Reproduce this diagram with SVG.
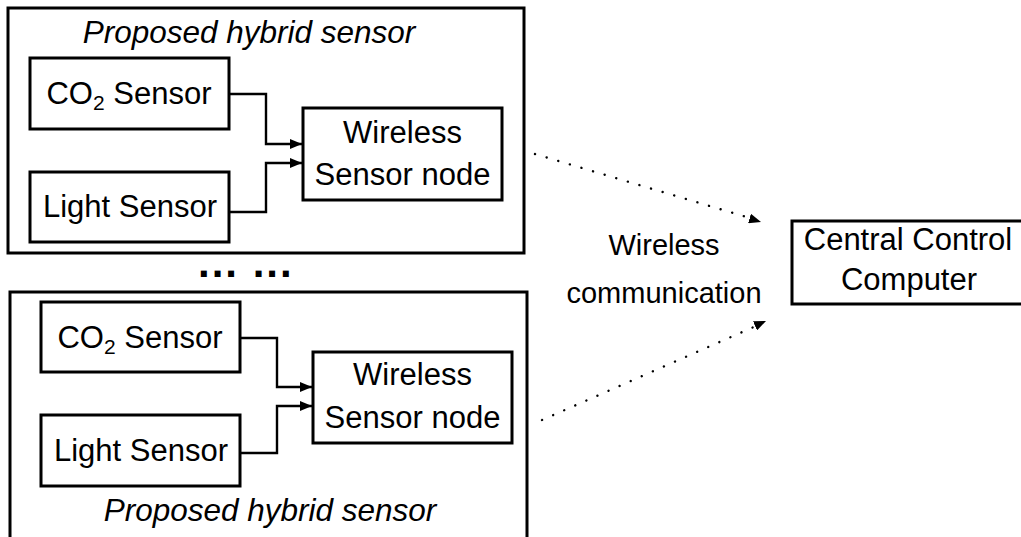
<svg xmlns="http://www.w3.org/2000/svg" width="1021" height="537" viewBox="0 0 1021 537">
<defs>
<style>
.box{fill:#fff;stroke:#000;stroke-width:3}
.outer{fill:none;stroke:#000;stroke-width:3}
.t{font-family:"Liberation Sans",Arial,sans-serif;font-size:31px;fill:#000;text-anchor:middle}
.ti{font-family:"Liberation Sans",Arial,sans-serif;font-size:31.5px;font-style:italic;fill:#000;text-anchor:middle}
.lbl{font-family:"Liberation Sans",Arial,sans-serif;font-size:29px;fill:#000;text-anchor:middle}
.dots{font-family:"Liberation Sans",Arial,sans-serif;font-size:42px;font-weight:bold;fill:#000;letter-spacing:2px}
.wire{fill:none;stroke:#000;stroke-width:2.4}
.dotted{fill:none;stroke:#000;stroke-width:2.4;stroke-dasharray:0.1 12;stroke-linecap:round}
.head{fill:none;stroke:none}
</style>
<marker id="ah" viewBox="0 0 12 10" refX="12" refY="5" markerWidth="12" markerHeight="10" markerUnits="userSpaceOnUse" orient="auto">
<path d="M0,0 L12,5 L0,10 z" fill="#000"/>
</marker>
</defs>
<rect width="1021" height="537" fill="#fff"/>

<g id="group-top">
<rect class="outer" x="8" y="8" width="516" height="245"/>
<text class="ti" x="249" y="43">Proposed hybrid sensor</text>
</g>
<g id="co2-top">
<rect class="box" x="30" y="58" width="199" height="71"/>
<text class="t" x="129" y="104">CO<tspan font-size="21" dy="6">2</tspan><tspan dy="-6"> Sensor</tspan></text>
</g>
<g id="light-top">
<rect class="box" x="30" y="172" width="199" height="70"/>
<text class="t" x="130" y="217">Light Sensor</text>
</g>
<g id="wsn-top">
<rect class="box" x="303" y="108" width="199" height="92"/>
<text class="t" x="402.5" y="143">Wireless</text>
<text class="t" x="402.5" y="185">Sensor node</text>
</g>

<g id="group-bottom">
<path class="outer" d="M10,540 V292 H527 V540"/>
<text class="ti" x="270" y="521">Proposed hybrid sensor</text>
</g>
<g id="co2-bottom">
<rect class="box" x="41" y="302" width="199" height="70"/>
<text class="t" x="140" y="348">CO<tspan font-size="21" dy="6">2</tspan><tspan dy="-6"> Sensor</tspan></text>
</g>
<g id="light-bottom">
<rect class="box" x="41" y="415" width="199" height="71"/>
<text class="t" x="141" y="461">Light Sensor</text>
</g>
<g id="wsn-bottom">
<rect class="box" x="313" y="352" width="199" height="91"/>
<text class="t" x="412.5" y="385">Wireless</text>
<text class="t" x="412.5" y="428">Sensor node</text>
</g>

<g id="central">
<rect class="box" x="792" y="221" width="234" height="83"/>
<text class="t" x="908" y="250">Central Control</text>
<text class="t" x="909" y="290">Computer</text>
</g>

<g id="ellipsis">
<text class="dots" x="198" y="277">... ...</text>
</g>

<g id="wireless-label">
<text class="lbl" x="664" y="255">Wireless</text>
<text class="lbl" x="664" y="303">communication</text>
</g>

<g id="connectors">
<path class="wire" d="M229,94 H266 V144 H302" marker-end="url(#ah)"/>
<path class="wire" d="M229,212 H266 V163 H302" marker-end="url(#ah)"/>
<path class="wire" d="M240,338 H277 V387 H312" marker-end="url(#ah)"/>
<path class="wire" d="M240,453 H277 V406 H312" marker-end="url(#ah)"/>
<path class="dotted" d="M535,154 L750,218"/>
<path class="head" d="M535,154 L761,222" marker-end="url(#ah)"/>
<path class="dotted" d="M542,420 L756,326"/>
<path class="head" d="M542,420 L766,321" marker-end="url(#ah)"/>
</g>
</svg>
